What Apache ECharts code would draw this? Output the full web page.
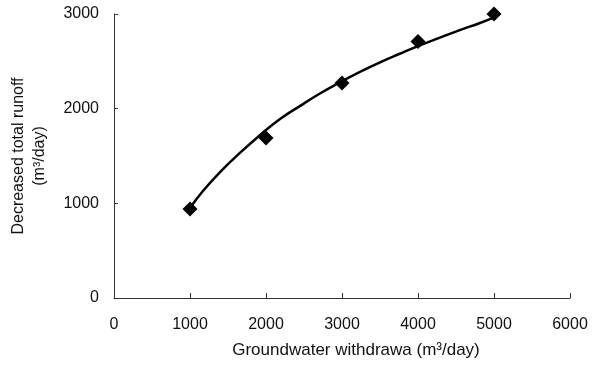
<!DOCTYPE html>
<html><head><meta charset="utf-8">
<script src="https://cdn.jsdelivr.net/npm/echarts@6/dist/echarts.min.js"></script>
<style>html,body{margin:0;padding:0;background:#fff}#c{width:592px;height:369px}</style>
</head><body><div id="c"></div>
<script>
var withdrawal = [1000, 2000, 3000, 4000, 5000];
var runoff = [940, 1690, 2270, 2710, 3000];
var trendX = [1000, 1170, 1395, 1660, 1920, 2185, 2450, 2710, 3000, 3240, 3500, 3760, 4000, 4290, 4550, 4815, 5000];
var trendY = [950, 1130, 1330, 1535, 1720, 1890, 2030, 2160, 2290, 2390, 2490, 2580, 2660, 2750, 2830, 2905, 2965];
var xTicks = [0, 1000, 2000, 3000, 4000, 5000, 6000];
var yTicks = [0, 1000, 2000, 3000];

var chart = echarts.init(document.getElementById('c'), null, {renderer: 'canvas'});
var font = 'Liberation Sans, Arial, sans-serif';
chart.setOption({
  animation: false,
  backgroundColor: '#fff',
  grid: {left: 114, right: 22, top: 14, bottom: 71, containLabel: false, outerBoundsMode: 'none'},
  xAxis: {
    type: 'value', min: xTicks[0], max: xTicks[xTicks.length-1], interval: 1000,
    name: 'Groundwater withdrawa (m³/day)', nameLocation: 'middle', nameGap: 44,
    nameTextStyle: {fontFamily: font, fontSize: 17, color: '#111', padding: [0, 0, 0, 28]},
    axisLine: {lineStyle: {color: '#333', width: 1}},
    axisTick: {inside: true, length: 5, lineStyle: {color: '#333'}},
    axisLabel: {fontFamily: font, fontSize: 16, color: '#111', margin: 19,
      formatter: function(v){ return String(v); }},
    splitLine: {show: false}
  },
  yAxis: {
    type: 'value', min: yTicks[0], max: yTicks[yTicks.length-1], interval: 1000,
    name: 'Decreased total runoff\n(m³/day)', nameLocation: 'middle', nameGap: 64, nameRotate: 90,
    nameTextStyle: {fontFamily: font, fontSize: 16, color: '#111', lineHeight: 21, padding: [0, 0, 0, 0]},
    axisLine: {show: true, lineStyle: {color: '#333', width: 1}},
    axisTick: {show: true, inside: true, length: 4, lineStyle: {color: '#333'}},
    axisLabel: {fontFamily: font, fontSize: 16, color: '#111', margin: 15,
      formatter: function(v){ return String(v); }},
    splitLine: {show: false}
  },
  series: [
    {
      type: 'line', smooth: true, showSymbol: false,
      data: trendX.map(function(x, i){ return [x, trendY[i]]; }),
      lineStyle: {color: '#000', width: 2.5}, z: 2
    },
    {
      type: 'scatter', symbol: 'diamond', symbolSize: 15,
      data: withdrawal.map(function(x, i){ return [x, runoff[i]]; }),
      itemStyle: {color: '#000', opacity: 1}, z: 3
    }
  ]
});
</script></body></html>
